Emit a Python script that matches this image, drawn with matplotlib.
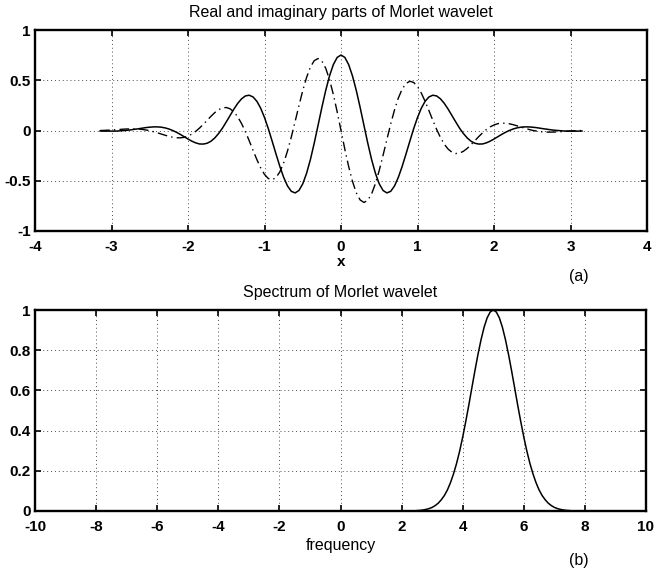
import matplotlib
matplotlib.use("Agg")
import matplotlib.pyplot as plt

plt.rcParams['font.family'] = ['Liberation Sans', 'DejaVu Sans']

# ---- data ----
x_vals = [-3.15, -3.10, -3.05, -3.00, -2.95, -2.90, -2.85, -2.80, -2.75, -2.70,
          -2.65, -2.60, -2.55, -2.50, -2.45, -2.40, -2.35, -2.30, -2.25, -2.20,
          -2.15, -2.10, -2.05, -2.00, -1.95, -1.90, -1.85, -1.80, -1.75, -1.70,
          -1.65, -1.60, -1.55, -1.50, -1.45, -1.40, -1.35, -1.30, -1.25, -1.20,
          -1.15, -1.10, -1.05, -1.00, -0.95, -0.90, -0.85, -0.80, -0.75, -0.70,
          -0.65, -0.60, -0.55, -0.50, -0.45, -0.40, -0.35, -0.30, -0.25, -0.20,
          -0.15, -0.10, -0.05, 0.00, 0.05, 0.10, 0.15, 0.20, 0.25, 0.30,
          0.35, 0.40, 0.45, 0.50, 0.55, 0.60, 0.65, 0.70, 0.75, 0.80,
          0.85, 0.90, 0.95, 1.00, 1.05, 1.10, 1.15, 1.20, 1.25, 1.30,
          1.35, 1.40, 1.45, 1.50, 1.55, 1.60, 1.65, 1.70, 1.75, 1.80,
          1.85, 1.90, 1.95, 2.00, 2.05, 2.10, 2.15, 2.20, 2.25, 2.30,
          2.35, 2.40, 2.45, 2.50, 2.55, 2.60, 2.65, 2.70, 2.75, 2.80,
          2.85, 2.90, 2.95, 3.00, 3.05, 3.10, 3.15]

real_part = [-0.005, -0.006, -0.006, -0.006, -0.006, -0.004, -0.001, 0.002, 0.006, 0.012,
             0.017, 0.023, 0.029, 0.033, 0.036, 0.036, 0.033, 0.026, 0.015, 0.000,
             -0.018, -0.039, -0.062, -0.085, -0.106, -0.123, -0.134, -0.135, -0.127, -0.107,
             -0.074, -0.030, 0.023, 0.085, 0.149, 0.213, 0.270, 0.315, 0.344, 0.351,
             0.334, 0.291, 0.222, 0.129, 0.018, -0.106, -0.233, -0.356, -0.465, -0.551,
             -0.605, -0.621, -0.597, -0.531, -0.426, -0.289, -0.126, 0.051, 0.230, 0.398,
             0.543, 0.656, 0.727, 0.751, 0.727, 0.656, 0.543, 0.398, 0.230, 0.051,
             -0.126, -0.289, -0.426, -0.531, -0.597, -0.621, -0.605, -0.551, -0.465, -0.356,
             -0.233, -0.106, 0.018, 0.129, 0.222, 0.291, 0.334, 0.351, 0.344, 0.315,
             0.270, 0.213, 0.149, 0.085, 0.023, -0.030, -0.074, -0.107, -0.127, -0.135,
             -0.134, -0.123, -0.106, -0.085, -0.062, -0.039, -0.018, 0.000, 0.015, 0.026,
             0.033, 0.036, 0.036, 0.033, 0.029, 0.023, 0.017, 0.012, 0.006, 0.002,
             -0.001, -0.004, -0.006, -0.006, -0.006, -0.006, -0.005]

imag_part = [0.000, 0.001, 0.003, 0.005, 0.008, 0.010, 0.013, 0.015, 0.016, 0.016,
             0.014, 0.011, 0.005, -0.002, -0.012, -0.023, -0.035, -0.047, -0.058, -0.067,
             -0.072, -0.073, -0.068, -0.055, -0.036, -0.009, 0.024, 0.061, 0.101, 0.141,
             0.178, 0.207, 0.225, 0.229, 0.216, 0.185, 0.136, 0.069, -0.011, -0.102,
             -0.197, -0.289, -0.372, -0.437, -0.478, -0.490, -0.468, -0.413, -0.324, -0.206,
             -0.066, 0.089, 0.246, 0.397, 0.528, 0.631, 0.695, 0.716, 0.691, 0.620,
             0.506, 0.358, 0.186, 0.000, -0.186, -0.358, -0.506, -0.620, -0.691, -0.716,
             -0.695, -0.631, -0.528, -0.397, -0.246, -0.089, 0.066, 0.206, 0.324, 0.413,
             0.468, 0.490, 0.478, 0.437, 0.372, 0.289, 0.197, 0.102, 0.011, -0.069,
             -0.136, -0.185, -0.216, -0.229, -0.225, -0.207, -0.178, -0.141, -0.101, -0.061,
             -0.024, 0.009, 0.036, 0.055, 0.068, 0.073, 0.072, 0.067, 0.058, 0.047,
             0.035, 0.023, 0.012, 0.002, -0.005, -0.011, -0.014, -0.016, -0.016, -0.015,
             -0.013, -0.010, -0.008, -0.005, -0.003, -0.001, 0.000]

freq_vals = [2.5, 2.6, 2.7, 2.8, 2.9, 3.0, 3.1, 3.2, 3.3, 3.4,
             3.5, 3.6, 3.7, 3.8, 3.9, 4.0, 4.1, 4.2, 4.3, 4.4,
             4.5, 4.6, 4.7, 4.8, 4.9, 5.0, 5.1, 5.2, 5.3, 5.4,
             5.5, 5.6, 5.7, 5.8, 5.9, 6.0, 6.1, 6.2, 6.3, 6.4,
             6.5, 6.6, 6.7, 6.8, 6.9, 7.0, 7.1, 7.2, 7.3, 7.4, 7.5]

spectrum = [0.002, 0.003, 0.005, 0.008, 0.012, 0.018, 0.027, 0.039, 0.056, 0.077,
            0.105, 0.141, 0.185, 0.237, 0.298, 0.368, 0.445, 0.527, 0.613, 0.698,
            0.779, 0.852, 0.914, 0.961, 0.990, 1.000, 0.990, 0.961, 0.914, 0.852,
            0.779, 0.698, 0.613, 0.527, 0.445, 0.368, 0.298, 0.237, 0.185, 0.141,
            0.105, 0.077, 0.056, 0.039, 0.027, 0.018, 0.012, 0.008, 0.005, 0.003, 0.002]

top_xticks = [-4, -3, -2, -1, 0, 1, 2, 3, 4]
top_yticks = [-1, -0.5, 0, 0.5, 1]
top_ylabels = ['-1', '-0.5', '0', '0.5', '1']
bot_xticks = [-10, -8, -6, -4, -2, 0, 2, 4, 6, 8, 10]
bot_yticks = [0, 0.2, 0.4, 0.6, 0.8, 1]
bot_ylabels = ['0', '0.2', '0.4', '0.6', '0.8', '1']

W, H = 655, 569
fig = plt.figure(figsize=(W / 100, H / 100), dpi=100)
ax1 = fig.add_axes([35 / W, 1 - 231 / H, 612 / W, 201 / H])
ax2 = fig.add_axes([35 / W, 1 - 511 / H, 611 / W, 201 / H])

grid_kw = dict(linestyle=(0, (1, 3)), color='0.3', linewidth=0.7)


def style(ax, xt, yt, ylabs):
    ax.set_xticks(xt)
    ax.set_xticklabels(['%g' % v for v in xt])
    ax.set_yticks(yt)
    ax.set_yticklabels(ylabs)
    ax.tick_params(direction='in', length=4, width=1.2, top=True, right=True,
                   labelsize=11, pad=3)
    ax.tick_params(axis='x', pad=6.5)
    for lab in ax.get_xticklabels() + ax.get_yticklabels():
        lab.set_fontweight('bold')
    for sp in ax.spines.values():
        sp.set_linewidth(1.7)
    ax.grid(True, **grid_kw)
    ax.set_axisbelow(True)


ax1.plot(x_vals, real_part, color='black', linewidth=1.1, linestyle='-')
ax1.plot(x_vals, imag_part, color='black', linewidth=1.0, linestyle=(0, (7, 3, 1, 3)))
ax1.set_xlim(-4, 4)
ax1.set_ylim(-1, 1)
style(ax1, top_xticks, top_yticks, top_ylabels)
ax1.set_title('Real and imaginary parts of Morlet wavelet', fontsize=11.5, pad=9)
ax1.set_xlabel('x', fontsize=11, fontweight='bold', labelpad=1)

ax2.plot(freq_vals, spectrum, color='black', linewidth=1.1)
ax2.set_xlim(-10, 10)
ax2.set_ylim(0, 1)
style(ax2, bot_xticks, bot_yticks, bot_ylabels)
ax2.set_title('Spectrum of Morlet wavelet', fontsize=11.5, pad=9)
ax2.set_xlabel('frequency', fontsize=11.5, labelpad=3)

fig.text(579 / W, 1 - 277 / H, '(a)', fontsize=11.5, ha='center', va='center')
fig.text(579 / W, 1 - 560 / H, '(b)', fontsize=11.5, ha='center', va='center')

fig.savefig('out.png', dpi=100)
